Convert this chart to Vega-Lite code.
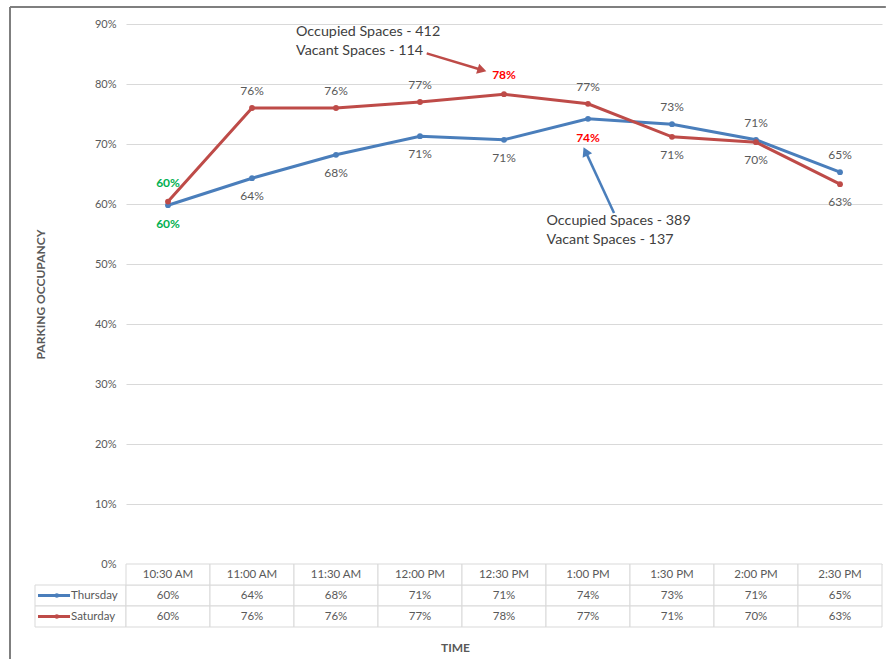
{
  "$schema": "https://vega.github.io/schema/vega-lite/v6.json",
  "padding": {"left": 9, "top": 5, "right": 0, "bottom": 0},
  "config": {"view": {"stroke": null}, "font": "Lato"},
  "datasets": {
    "occ": [
      {"series": "Thursday", "time": "10:30 AM", "value": 0.598},
      {"series": "Thursday", "time": "11:00 AM", "value": 0.643},
      {"series": "Thursday", "time": "11:30 AM", "value": 0.682},
      {"series": "Thursday", "time": "12:00 PM", "value": 0.713},
      {"series": "Thursday", "time": "12:30 PM", "value": 0.707},
      {"series": "Thursday", "time": "1:00 PM", "value": 0.742},
      {"series": "Thursday", "time": "1:30 PM", "value": 0.733},
      {"series": "Thursday", "time": "2:00 PM", "value": 0.707},
      {"series": "Thursday", "time": "2:30 PM", "value": 0.653},
      {"series": "Saturday", "time": "10:30 AM", "value": 0.604},
      {"series": "Saturday", "time": "11:00 AM", "value": 0.76},
      {"series": "Saturday", "time": "11:30 AM", "value": 0.76},
      {"series": "Saturday", "time": "12:00 PM", "value": 0.77},
      {"series": "Saturday", "time": "12:30 PM", "value": 0.783},
      {"series": "Saturday", "time": "1:00 PM", "value": 0.767},
      {"series": "Saturday", "time": "1:30 PM", "value": 0.712},
      {"series": "Saturday", "time": "2:00 PM", "value": 0.703},
      {"series": "Saturday", "time": "2:30 PM", "value": 0.633}
    ],
    "notes": [
      {"note": "Saturday", "x": 2.024, "y": 0.887, "label": ["Occupied Spaces - 412", "Vacant Spaces - 114"]},
      {"note": "Thursday", "x": 5.006, "y": 0.5717, "label": ["Occupied Spaces - 389", "Vacant Spaces - 137"]}
    ],
    "arrows": [
      {"note": "Saturday", "x": 3.58, "y": 0.851, "x2": 4.238, "y2": 0.8233},
      {"note": "Thursday", "x": 5.81, "y": 0.585, "x2": 5.47, "y2": 0.6877}
    ],
    "frame": [
      {"side": "left", "x": -0.2747, "x2": -0.2747, "y": 1.0315, "y2": -0.178},
      {"side": "top", "x": -0.2747, "x2": 9.35, "y": 1.0315, "y2": 1.0315}
    ]
  },
  "columns": 2,
  "spacing": 0,
  "bounds": "flush",
  "concat": [
    {
      "width": 91, "height": 540,
      "data": {"name": "frame"},
      "mark": {"type": "rule", "strokeWidth": 2, "color": "#7f7f7f", "clip": false},
      "encoding": {
        "x": {"field": "x", "type": "quantitative", "scale": {"domain": [0, 1], "zero": false, "nice": false}, "axis": null},
        "x2": {"field": "x2"},
        "y": {"field": "y", "type": "quantitative", "scale": {"domain": [0, 1], "zero": false, "nice": false}, "axis": null},
        "y2": {"field": "y2"}
      }
    },
    {
      "width": 756, "height": 540,
      "resolve": {"scale": {"x": "independent"}},
      "layer": [
        {
          "data": {"name": "occ"},
          "encoding": {
            "x": {"field": "time", "type": "ordinal", "scale": {"domain": ["10:30 AM","11:00 AM","11:30 AM","12:00 PM","12:30 PM","1:00 PM","1:30 PM","2:00 PM","2:30 PM"]}, "axis": null},
            "y": {"field": "value", "type": "quantitative", "title": "PARKING OCCUPANCY", "scale": {"domain": [0, 0.9]},
              "axis": {"values": [0,0.1,0.2,0.3,0.4,0.5,0.6,0.7,0.8,0.9], "format": ".0%", "grid": true, "gridColor": "#d9d9d9", "domain": false, "ticks": false, "labelPadding": 10, "labelColor": "#595959", "labelFontSize": 11, "titleColor": "#595959", "titleFontSize": 12, "titleFontWeight": "bold", "titlePadding": 47}}
          },
          "layer": [
            {
              "mark": {"type": "line", "strokeWidth": 3, "point": {"filled": true, "size": 34}},
              "encoding": {
                "color": {"field": "series", "type": "nominal", "scale": {"domain": ["Thursday", "Saturday"], "range": ["#4A7EBB", "#BE4B48"]}, "legend": null}
              }
            },
            {
              "transform": [
                {"filter": "!(datum.time == '10:30 AM' || (datum.series == 'Saturday' && datum.time == '12:30 PM') || (datum.series == 'Thursday' && datum.time == '1:00 PM'))"},
                {"filter": "datum.series == 'Saturday' ? indexof(['1:30 PM','2:00 PM','2:30 PM'], datum.time) < 0 : indexof(['1:30 PM','2:00 PM','2:30 PM'], datum.time) >= 0"}
              ],
              "mark": {"type": "text", "dy": -17, "fontSize": 12, "color": "#595959"},
              "encoding": {"text": {"field": "value", "type": "quantitative", "format": ".0%"}}
            },
            {
              "transform": [
                {"filter": "!(datum.time == '10:30 AM' || (datum.series == 'Saturday' && datum.time == '12:30 PM') || (datum.series == 'Thursday' && datum.time == '1:00 PM'))"},
                {"filter": "!(datum.series == 'Saturday' ? indexof(['1:30 PM','2:00 PM','2:30 PM'], datum.time) < 0 : indexof(['1:30 PM','2:00 PM','2:30 PM'], datum.time) >= 0)"}
              ],
              "mark": {"type": "text", "dy": 18, "fontSize": 12, "color": "#595959"},
              "encoding": {"text": {"field": "value", "type": "quantitative", "format": ".0%"}}
            },
            {
              "transform": [
                {"filter": "(datum.series == 'Saturday' && datum.time == '10:30 AM') || (datum.series == 'Saturday' && datum.time == '12:30 PM')"}
              ],
              "mark": {"type": "text", "dy": -19, "fontSize": 12, "fontWeight": "bold"},
              "encoding": {
                "text": {"field": "value", "type": "quantitative", "format": ".0%"},
                "color": {"condition": {"test": "datum.time == '10:30 AM'", "value": "#00B050"}, "value": "#FF0000"}
              }
            },
            {
              "transform": [
                {"filter": "(datum.series == 'Thursday' && datum.time == '10:30 AM') || (datum.series == 'Thursday' && datum.time == '1:00 PM')"}
              ],
              "mark": {"type": "text", "dy": 19, "fontSize": 12, "fontWeight": "bold"},
              "encoding": {
                "text": {"field": "value", "type": "quantitative", "format": ".0%"},
                "color": {"condition": {"test": "datum.time == '10:30 AM'", "value": "#00B050"}, "value": "#FF0000"}
              }
            }
          ]
        },
        {
          "layer": [
            {
              "data": {"name": "notes"},
              "mark": {"type": "text", "align": "left", "baseline": "middle", "fontSize": 14.3, "lineHeight": 19.5, "color": "#404040"},
              "encoding": {
                "x": {"field": "x", "type": "quantitative", "scale": {"domain": [0, 9]}, "axis": null},
                "y": {"field": "y", "type": "quantitative", "title": "PARKING OCCUPANCY"},
                "text": {"field": "label"}
              }
            },
            {
              "data": {"name": "arrows"},
              "transform": [{"filter": "datum.note == 'Saturday'"}],
              "mark": {"type": "rule", "strokeWidth": 2.5, "color": "#BE4B48"},
              "encoding": {
                "x": {"field": "x", "type": "quantitative", "scale": {"domain": [0, 9]}, "axis": null},
                "y": {"field": "y", "type": "quantitative", "title": "PARKING OCCUPANCY"},
                "x2": {"field": "x2"},
                "y2": {"field": "y2"}
              }
            },
            {
              "data": {"name": "arrows"},
              "transform": [{"filter": "datum.note == 'Thursday'"}],
              "mark": {"type": "rule", "strokeWidth": 2.5, "color": "#4A7EBB"},
              "encoding": {
                "x": {"field": "x", "type": "quantitative", "scale": {"domain": [0, 9]}, "axis": null},
                "y": {"field": "y", "type": "quantitative", "title": "PARKING OCCUPANCY"},
                "x2": {"field": "x2"},
                "y2": {"field": "y2"}
              }
            },
            {
              "data": {"name": "arrows"},
              "transform": [{"filter": "datum.note == 'Saturday'"}],
              "mark": {"type": "point", "shape": "triangle-up", "filled": true, "opacity": 1, "size": 110, "angle": 107, "color": "#BE4B48"},
              "encoding": {
                "x": {"field": "x2", "type": "quantitative", "scale": {"domain": [0, 9]}, "axis": null},
                "y": {"field": "y2", "type": "quantitative", "title": "PARKING OCCUPANCY"}
              }
            },
            {
              "data": {"name": "arrows"},
              "transform": [{"filter": "datum.note == 'Thursday'"}],
              "mark": {"type": "point", "shape": "triangle-up", "filled": true, "opacity": 1, "size": 110, "angle": 335, "color": "#4A7EBB"},
              "encoding": {
                "x": {"field": "x2", "type": "quantitative", "scale": {"domain": [0, 9]}, "axis": null},
                "y": {"field": "y2", "type": "quantitative", "title": "PARKING OCCUPANCY"}
              }
            }
          ]
        }
      ]
    },
    {
      "width": 91, "height": 63,
      "data": {"name": "occ"},
      "transform": [{"filter": "datum.time == '10:30 AM'"}],
      "encoding": {
        "y": {"field": "series", "type": "nominal", "scale": {"type": "band", "domain": ["Header", "Thursday", "Saturday"], "paddingInner": 0, "paddingOuter": 0}, "axis": null}
      },
      "layer": [
        {
          "mark": {"type": "rect", "fill": "white", "stroke": "#d9d9d9", "strokeWidth": 1},
          "encoding": {
            "x": {"datum": 0, "type": "quantitative", "scale": {"domain": [0, 1]}, "axis": null},
            "x2": {"datum": 1}
          }
        },
        {
          "mark": {"type": "rule", "strokeWidth": 3},
          "encoding": {
            "x": {"datum": 0.033, "type": "quantitative", "scale": {"domain": [0, 1]}, "axis": null},
            "x2": {"datum": 0.385},
            "color": {"field": "series", "type": "nominal", "scale": {"domain": ["Thursday", "Saturday"], "range": ["#4A7EBB", "#BE4B48"]}, "legend": null}
          }
        },
        {
          "mark": {"type": "point", "filled": true, "opacity": 1, "size": 20},
          "encoding": {
            "x": {"datum": 0.24, "type": "quantitative", "scale": {"domain": [0, 1]}, "axis": null},
            "color": {"field": "series", "type": "nominal", "scale": {"domain": ["Thursday", "Saturday"], "range": ["#4A7EBB", "#BE4B48"]}, "legend": null}
          }
        },
        {
          "mark": {"type": "text", "align": "left", "fontSize": 11.5, "color": "#595959"},
          "encoding": {
            "x": {"datum": 0.396, "type": "quantitative", "scale": {"domain": [0, 1]}, "axis": null},
            "text": {"field": "series"}
          }
        }
      ]
    },
    {
      "width": 756, "height": 63,
      "data": {"name": "occ"},
      "encoding": {
        "x": {"field": "time", "type": "ordinal", "scale": {"type": "band", "domain": ["10:30 AM","11:00 AM","11:30 AM","12:00 PM","12:30 PM","1:00 PM","1:30 PM","2:00 PM","2:30 PM"], "paddingInner": 0, "paddingOuter": 0},
          "axis": {"title": "TIME", "labels": false, "ticks": false, "domain": false, "grid": false, "titleX": 329, "titlePadding": 15, "titleFontSize": 12, "titleFontWeight": "bold", "titleColor": "#595959"}}
      },
      "layer": [
        {
          "mark": {"type": "rect", "fill": "white", "stroke": "#d9d9d9", "strokeWidth": 1},
          "encoding": {
            "y": {"field": "series", "type": "nominal", "scale": {"type": "band", "domain": ["Header", "Thursday", "Saturday"], "paddingInner": 0, "paddingOuter": 0}, "axis": null}
          }
        },
        {
          "transform": [{"filter": "datum.series == 'Thursday'"}],
          "mark": {"type": "rect", "fill": "white", "stroke": "#d9d9d9", "strokeWidth": 1},
          "encoding": {
            "y": {"datum": "Header", "type": "nominal", "scale": {"type": "band", "domain": ["Header", "Thursday", "Saturday"], "paddingInner": 0, "paddingOuter": 0}, "axis": null}
          }
        },
        {
          "transform": [{"filter": "datum.series == 'Thursday'"}],
          "mark": {"type": "text", "fontSize": 11.5, "color": "#595959"},
          "encoding": {
            "y": {"datum": "Header", "type": "nominal", "bandPosition": 0.5, "scale": {"type": "band", "domain": ["Header", "Thursday", "Saturday"], "paddingInner": 0, "paddingOuter": 0}, "axis": null},
            "text": {"field": "time"}
          }
        },
        {
          "mark": {"type": "text", "fontSize": 11.5, "color": "#595959"},
          "encoding": {
            "y": {"field": "series", "type": "nominal", "bandPosition": 0.5, "scale": {"type": "band", "domain": ["Header", "Thursday", "Saturday"], "paddingInner": 0, "paddingOuter": 0}, "axis": null},
            "text": {"field": "value", "type": "quantitative", "format": ".0%"}
          }
        }
      ]
    }
  ]
}
